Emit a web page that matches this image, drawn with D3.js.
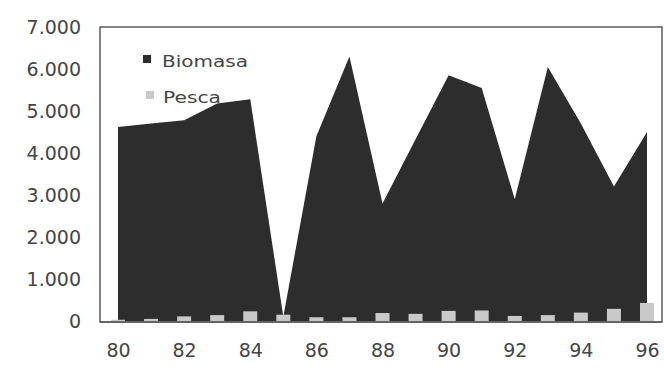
<!DOCTYPE html>
<html>
<head>
<meta charset="utf-8">
<script src="https://cdn.jsdelivr.net/npm/d3@7"></script>
<style>
  html, body { margin: 0; padding: 0; background: #ffffff; }
  svg { display: block; }
  text { font-family: "DejaVu Sans", sans-serif; fill: #454545; }
</style>
</head>
<body>
<svg id="chart" width="664" height="375"></svg>
<script>
const years = [80, 81, 82, 83, 84, 85, 86, 87, 88, 89, 90, 91, 92, 93, 94, 95, 96];
const biomasa = [4620, 4700, 4780, 5180, 5280, 100, 4400, 6300, 2800, 4330, 5850, 5550, 2900, 6050, 4700, 3200, 4500];
const pesca = [30, 50, 110, 140, 230, 150, 90, 90, 190, 170, 240, 250, 120, 140, 200, 290, 430];
const yTicks = [0, 1000, 2000, 3000, 4000, 5000, 6000, 7000];
const yTickLabels = ["0", "1.000", "2.000", "3.000", "4.000", "5.000", "6.000", "7.000"];
const xTickYears = [80, 82, 84, 86, 88, 90, 92, 94, 96];
const seriesNames = ["Biomasa", "Pesca"];
const seriesColors = ["#2d2d2d", "#c9c9c9"];

const svg = d3.select("#chart");
const frame = { left: 100, top: 27, right: 662, bottom: 322 };

const x = d3.scaleLinear().domain([80, 96]).range([118, 647]);
const y = d3.scaleLinear().domain([0, 7000]).range([321, 27]);

// Frame
svg.append("rect")
  .attr("x", frame.left).attr("y", frame.top)
  .attr("width", frame.right - frame.left).attr("height", frame.bottom - frame.top)
  .attr("fill", "#ffffff").attr("stroke", "#5a5a5a").attr("stroke-width", 1.5);

// Legend (drawn under the area)
const legend = svg.append("g");
const legendPos = [
  { sx: 143, sy: 55, tx: 162, ty: 67, len: 86 },
  { sx: 146, sy: 91, tx: 163, ty: 103, len: 58 }
];
seriesNames.forEach((n, i) => {
  legend.append("rect")
    .attr("x", legendPos[i].sx).attr("y", legendPos[i].sy)
    .attr("width", 8).attr("height", 8)
    .attr("fill", seriesColors[i]);
  legend.append("text")
    .attr("x", legendPos[i].tx).attr("y", legendPos[i].ty)
    .attr("font-size", 16)
    .attr("textLength", legendPos[i].len)
    .attr("lengthAdjust", "spacingAndGlyphs")
    .text(n);
});

// Biomasa area
const area = d3.area()
  .x((d, i) => x(years[i]))
  .y0(y(0))
  .y1(d => y(d));
svg.append("path")
  .datum(biomasa)
  .attr("d", area)
  .attr("fill", seriesColors[0]);

// Pesca bars
const barW = 14;
svg.selectAll(".pesca")
  .data(pesca)
  .enter().append("rect")
  .attr("class", "pesca")
  .attr("x", (d, i) => x(years[i]) - barW / 2)
  .attr("y", d => y(d))
  .attr("width", barW)
  .attr("height", d => y(0) - y(d))
  .attr("fill", seriesColors[1]);

// Baseline
svg.append("line")
  .attr("x1", frame.left).attr("x2", frame.right)
  .attr("y1", frame.bottom).attr("y2", frame.bottom)
  .attr("stroke", "#5a5a5a").attr("stroke-width", 1.5);

// Y axis labels
const yAxis = d3.axisLeft(y)
  .tickValues(yTicks)
  .tickSize(0)
  .tickPadding(0)
  .tickFormat((d, i) => yTickLabels[i]);
const gy = svg.append("g").attr("transform", "translate(81,0)").call(yAxis);
gy.select(".domain").remove();
gy.selectAll("text").attr("font-size", 19).attr("font-family", "DejaVu Sans").attr("fill", "#4a4a4a");

// X axis labels
const xAxis = d3.axisBottom(x)
  .tickValues(xTickYears)
  .tickSize(0)
  .tickPadding(0)
  .tickFormat(d => String(d));
const gx = svg.append("g").attr("transform", "translate(0,343)").call(xAxis);
gx.select(".domain").remove();
gx.selectAll("text").attr("font-size", 19).attr("font-family", "DejaVu Sans").attr("fill", "#4a4a4a");
</script>
</body>
</html>
